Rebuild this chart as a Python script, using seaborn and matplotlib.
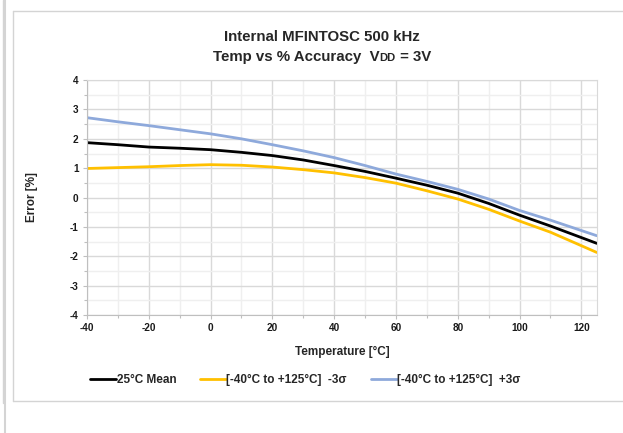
import numpy as np
import pandas as pd
import matplotlib
matplotlib.use("Agg")
import matplotlib.pyplot as plt
from matplotlib.lines import Line2D
from matplotlib.ticker import MultipleLocator
import seaborn as sns

# datos
temp = [-40, -30, -20, -10, 0, 10, 20, 30, 40, 50, 60, 70, 80, 90, 100, 110, 125]
mean_25 = [1.87, 1.80, 1.72, 1.68, 1.63, 1.54, 1.43, 1.28, 1.09, 0.89, 0.66, 0.42, 0.15, -0.20, -0.60, -0.97, -1.56]
minus_3s = [0.99, 1.02, 1.05, 1.09, 1.12, 1.10, 1.04, 0.95, 0.84, 0.68, 0.49, 0.23, -0.05, -0.40, -0.80, -1.18, -1.87]
plus_3s = [2.72, 2.58, 2.45, 2.31, 2.17, 2.00, 1.80, 1.59, 1.36, 1.09, 0.80, 0.55, 0.28, -0.05, -0.44, -0.77, -1.30]

labels = ["25°C Mean", "[-40°C to +125°C]  -3σ", "[-40°C to +125°C]  +3σ"]
colores = ["#000000", "#FFC000", "#8EA9DB"]

df = pd.DataFrame({"Temperature": temp * 3,
                   "Error": mean_25 + minus_3s + plus_3s,
                   "serie": [labels[0]] * len(temp) + [labels[1]] * len(temp) + [labels[2]] * len(temp)})

sns.set_style("white")
plt.rcParams["font.family"] = ["Liberation Sans", "DejaVu Sans"]
plt.rcParams["font.weight"] = "bold"
plt.rcParams["axes.unicode_minus"] = False

fig = plt.figure(figsize=(6.23, 4.33), dpi=100)
ax = fig.add_axes([0.1396, 0.2725, 0.8184, 0.5425])

sns.lineplot(data=df, x="Temperature", y="Error", hue="serie", palette=colores,
             hue_order=labels, linewidth=2.0, ax=ax, legend=False)

ax.set_xlim(-40, 125)
ax.set_ylim(-4, 4)
ax.xaxis.set_major_locator(MultipleLocator(20))
ax.xaxis.set_minor_locator(MultipleLocator(10))
ax.yaxis.set_major_locator(MultipleLocator(1))
ax.yaxis.set_minor_locator(MultipleLocator(0.5))
ax.grid(which="major", color="#D9D9D9", linewidth=1.0)
ax.grid(which="minor", color="#EFEFEF", linewidth=1.0)
ax.set_axisbelow(True)
for s in ["top", "right"]:
    ax.spines[s].set_color("#D9D9D9")
for s in ["left", "bottom"]:
    ax.spines[s].set_color("#BFBFBF")
ax.tick_params(which="both", direction="out", color="#BFBFBF", length=3, width=0.8,
               labelsize=7.2, labelcolor="#1a1a1a", pad=3, left=True, bottom=True)
ax.tick_params(which="minor", length=2)
for t in ax.get_xticklabels() + ax.get_yticklabels():
    t.set_fontweight("bold")

ax.set_xlabel("Temperature [°C]", fontsize=8.5, fontweight="bold", labelpad=9)
ax.set_ylabel("Error [%]", fontsize=8.5, fontweight="bold", labelpad=23)

# titulo
fig.text(0.517, 0.914, "Internal MFINTOSC 500 kHz", ha="center", va="center",
         fontsize=10.8, fontweight="bold")
base = 0.858
t1 = fig.text(0.0, base, "Temp vs % Accuracy  V", ha="left", va="baseline",
              fontsize=10.8, fontweight="bold")
fig.canvas.draw()
r = fig.canvas.get_renderer()
t2 = fig.text(t1.get_window_extent(r).x1 / fig.bbox.width, base, "DD", ha="left",
              va="baseline", fontsize=8, fontweight="bold")
fig.canvas.draw()
t3 = fig.text(t2.get_window_extent(r).x1 / fig.bbox.width, base, " = 3V", ha="left",
              va="baseline", fontsize=10.8, fontweight="bold")
fig.canvas.draw()
x0 = t1.get_window_extent(r).x0
x1 = t3.get_window_extent(r).x1
ancho = (x1 - x0) / fig.bbox.width
inicio = 0.517 - ancho / 2
for t in [t1, t2, t3]:
    t.set_x(t.get_position()[0] + inicio)

handles = [Line2D([0], [0], color=c, linewidth=2.0) for c in colores]
fig.legend(handles, labels, loc="center", bbox_to_anchor=(0.49, 0.122), ncol=3,
           frameon=False, handlelength=2.2, handletextpad=0.05,
           columnspacing=2.0, prop={"weight": "bold", "size": 8.5})

# bordes de la captura
gris = "#D4D4D4"
fig.add_artist(Line2D([0.021, 0.021], [0.075, 0.975], color=gris, linewidth=1))
fig.add_artist(Line2D([0.021, 1.0], [0.075, 0.075], color=gris, linewidth=1))
fig.add_artist(Line2D([0.021, 1.0], [0.975, 0.975], color=gris, linewidth=1))
fig.add_artist(Line2D([0.0045, 0.0045], [0.07, 1.0], color=gris, linewidth=1))
fig.add_artist(Line2D([0.0085, 0.0085], [0.0, 1.0], color=gris, linewidth=1.5))

fig.savefig("out.png", dpi=100)
